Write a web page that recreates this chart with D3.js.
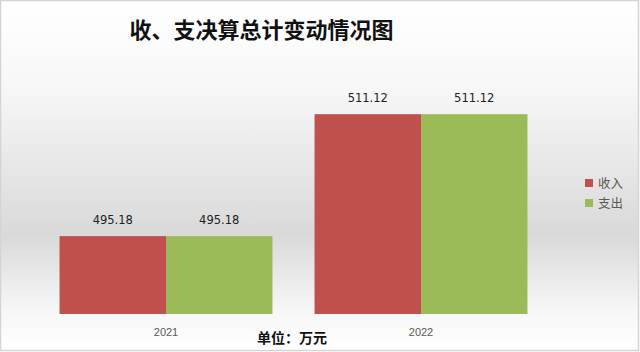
<!DOCTYPE html>
<html>
<head>
<meta charset="utf-8">
<script src="https://cdn.jsdelivr.net/npm/d3@7"></script>
<style>
  html, body { margin: 0; padding: 0; background: #fff; }
  svg { display: block; }
</style>
</head>
<body>
<script>
// chart data
const years = ['2021', '2022'];
const seriesNames = ['收入', '支出'];
const income = [495.18, 511.12];
const expense = [495.18, 511.12];
const colors = ['#C0504D', '#9BBB59'];

const W = 640, H = 352;

const svg = d3.select('body').append('svg')
    .attr('width', W)
    .attr('height', H);

// background gradient (white -> gray -> white)
const defs = svg.append('defs');
const grad = defs.append('linearGradient')
    .attr('id', 'bg')
    .attr('x1', 0).attr('y1', 0).attr('x2', 0).attr('y2', 1);
grad.append('stop').attr('offset', '0%').attr('stop-color', '#ffffff');
grad.append('stop').attr('offset', '25%').attr('stop-color', '#f7f7f7');
grad.append('stop').attr('offset', '67%').attr('stop-color', '#d9d9d9');
grad.append('stop').attr('offset', '88%').attr('stop-color', '#f6f6f6');
grad.append('stop').attr('offset', '100%').attr('stop-color', '#ffffff');

svg.append('rect')
    .attr('x', 0.5).attr('y', 0.5)
    .attr('width', W - 2).attr('height', H - 2)
    .attr('fill', 'url(#bg)')
    .attr('stroke', '#d4d4d4')
    .attr('stroke-width', 1.5);

const x0 = d3.scaleBand()
    .domain(years)
    .range([38.5, 548.5])
    .paddingInner(0.165)
    .paddingOuter(0.0825);

const x1 = d3.scaleBand()
    .domain(seriesNames)
    .range([0, x0.bandwidth()]);

const y = d3.scaleLinear()
    .domain([485, 515])
    .range([314, 84.5]);

const rows = years.map((yr, i) => ({
    year: yr,
    values: [
        { name: seriesNames[0], value: income[i] },
        { name: seriesNames[1], value: expense[i] }
    ]
}));

const color = d3.scaleOrdinal().domain(seriesNames).range(colors);

const groups = svg.append('g').selectAll('g')
    .data(rows)
    .enter()
    .append('g')
    .attr('transform', d => `translate(${x0(d.year)},0)`);

groups.selectAll('rect')
    .data(d => d.values)
    .enter()
    .append('rect')
    .attr('x', d => x1(d.name))
    .attr('y', d => y(d.value))
    .attr('width', x1.bandwidth())
    .attr('height', d => y(485) - y(d.value))
    .attr('fill', d => color(d.name));

groups.selectAll('text.val')
    .data(d => d.values)
    .enter()
    .append('text')
    .attr('class', 'val')
    .attr('x', d => x1(d.name) + x1.bandwidth() / 2)
    .attr('y', d => y(d.value) - 12)
    .attr('text-anchor', 'middle')
    .style('font-family', '"DejaVu Sans", sans-serif')
    .style('font-size', '11.5px')
    .style('fill', '#222')
    .text(d => d.value.toFixed(2));

// category axis labels
const xAxis = d3.axisBottom(x0).tickSize(0).tickPadding(14);
const ax = svg.append('g')
    .attr('transform', `translate(0,${y(485)})`)
    .call(xAxis);
ax.select('.domain').remove();
ax.selectAll('text')
    .style('font-family', '"Liberation Sans", Arial, sans-serif')
    .style('font-size', '11px')
    .style('fill', '#595959');

// title
svg.append('text')
    .attr('x', 261.5)
    .attr('y', 38)
    .attr('text-anchor', 'middle')
    .style('font-family', '"Noto Sans CJK SC", sans-serif')
    .style('font-size', '22px')
    .style('font-weight', 'bold')
    .style('fill', '#111')
    .text('收、支决算总计变动情况图');

// unit
svg.append('text')
    .attr('x', 257)
    .attr('y', 343)
    .style('font-family', '"Noto Sans CJK SC", sans-serif')
    .style('font-size', '14px')
    .style('font-weight', 'bold')
    .style('fill', '#111')
    .text('单位：万元');

// legend
const legend = svg.append('g')
    .attr('transform', 'translate(585,179)')
    .selectAll('g')
    .data(seriesNames)
    .enter()
    .append('g')
    .attr('transform', (d, i) => `translate(0,${i * 20})`);

legend.append('rect')
    .attr('width', 8)
    .attr('height', 8)
    .attr('fill', d => color(d));

legend.append('text')
    .attr('x', 13)
    .attr('y', 8.5)
    .style('font-family', '"Noto Sans CJK SC", sans-serif')
    .style('font-size', '12.5px')
    .style('fill', '#595959')
    .text(d => d);
</script>
</body>
</html>
